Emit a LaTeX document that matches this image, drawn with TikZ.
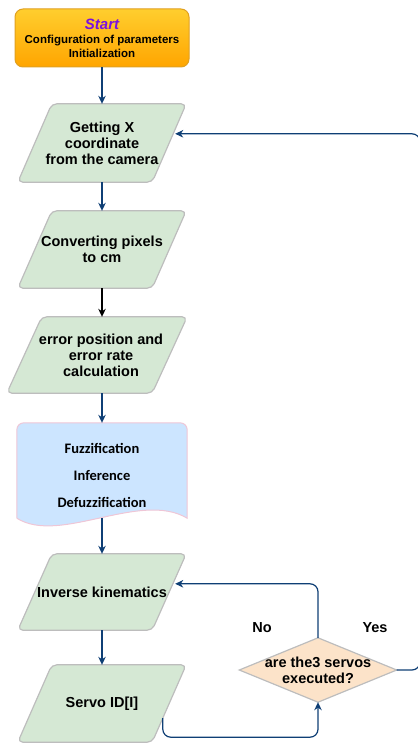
\documentclass[tikz,border=0pt]{standalone}
\usepackage{fontspec}
\setmainfont{Liberation Sans}
\newfontfamily\carl{Carlito}
\usetikzlibrary{arrows.meta,calc,backgrounds}
\definecolor{pgreen}{HTML}{D5E8D4}
\definecolor{pborder}{HTML}{BDBDBD}
\definecolor{docfill}{HTML}{CCE5FF}
\definecolor{docborder}{HTML}{EFC6D6}
\definecolor{decfill}{HTML}{FCE3C9}
\definecolor{conncol}{HTML}{0F3F75}
\definecolor{purp}{HTML}{7A10E0}
\definecolor{otop}{HTML}{FFCE2E}
\definecolor{obot}{HTML}{FFA500}
\definecolor{oborder}{HTML}{E0A020}
\tikzset{
 txt/.style={font=\bfseries\fontsize{14.5}{16}\selectfont, align=center, inner sep=0pt},
 box/.style={txt, minimum width=168pt, minimum height=77pt},
 parafill/.style={fill=pgreen, draw=pborder, line width=1.2pt, rounded corners=5pt},
 arr/.style={draw=conncol, line width=1.2pt, -{Stealth[length=8pt,width=7.5pt,inset=2.5pt]}, rounded corners=8pt},
}
\newcommand{\paral}[2]{\draw[parafill] ($(#1.north west)+(#2,0)$) -- (#1.north east) -- ($(#1.south east)-(#2,0)$) -- (#1.south west) -- cycle;}
\begin{document}
\begin{tikzpicture}[x=1pt,y=-1pt]
\useasboundingbox (0,0) rectangle (417,743);
% start box
\node[txt, draw=oborder, line width=1pt, rounded corners=8pt, top color=otop, bottom color=obot,
      minimum width=174pt, minimum height=58pt, font=\bfseries\fontsize{11.5}{14}\selectfont]
      (start) at (102,38) {{\fontsize{15}{16}\selectfont\itshape\color{purp}Start}\\Configuration of parameters\\Initialization};
% parallelograms
\node[box, minimum height=78pt] (p1) at (102,143) {Getting X\\coordinate\\from the camera};
\node[box] (p2) at (102,249.5) {Converting pixels\\to cm};
\node[box, minimum width=180pt, minimum height=76pt] (p3) at (97,355) {};
\node[txt] (p3t) at (101,355) {error position and\\error rate\\calculation};
% document shape
\node[minimum width=170pt, minimum height=95pt, inner sep=0pt] (fz) at (102,470.5) {};
\node[font=\carl\bfseries\fontsize{14.5}{27}\selectfont, align=center, inner sep=0pt] (fztext) at (102,475.5) {Fuzzification\\Inference\\Defuzzification};
\node[box, minimum height=76pt] (p5) at (102,592) {Inverse kinematics};
\node[box] (p6) at (102,703.5) {Servo ID[I]};
% decision
\node[txt, minimum width=157pt, minimum height=64pt] (dec) at (318,670) {are the3 servos\\executed?};
\node[txt] (no) at (262,628) {No};
\node[txt] (yes) at (375,628) {Yes};
\coordinate (rt) at (420,400);
\begin{scope}[on background layer]
\paral{p1}{34}
\paral{p2}{34}
\paral{p3}{35}
\paral{p5}{34}
\paral{p6}{34}
\draw[fill=docfill, draw=docborder, line width=1pt] (fz.south west) [rounded corners=7pt] -- (fz.north west) -- (fz.north east) [sharp corners] -- (fz.south east) .. controls +(-47,-28) and +(43,27) .. (fz.south west);
\draw[fill=decfill, draw=pborder, line width=1.2pt] (dec.north) -- (dec.east) -- (dec.south) -- (dec.west) -- cycle;
\end{scope}
% connectors
\draw[arr] (start.south) -- (p1.north);
\draw[arr] (p1.south) -- (p2.north);
\draw[arr, draw=black] (p2.south) -- (p2.south |- p3.north);
\draw[arr] (p2.south |- p3.south) -- (fz.north);
\draw[arr] (fz.south) -- (p5.north);
\draw[arr] (p5.south) -- (p6.north);
\draw[arr] ($(p6.south east)+(-23.4,-24)$) -- ++(0,19) -| (dec.south);
\draw[arr] (dec.north) |- ($(p5.north east)+(-11,30)$);
\draw[arr] (dec.east) -- (dec.east -| rt) |- ($(p1.north east)+(-11,30)$);
\end{tikzpicture}
\end{document}
